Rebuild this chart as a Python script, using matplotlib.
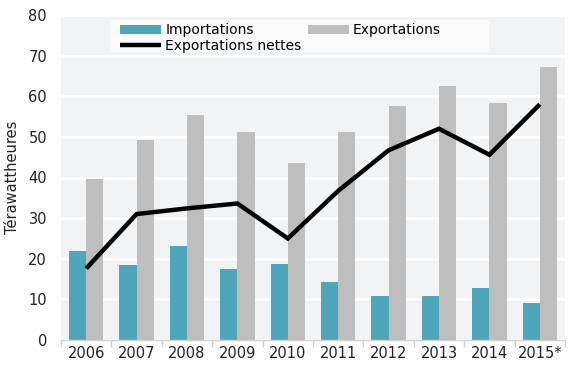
import matplotlib
matplotlib.use("Agg")
import matplotlib.pyplot as plt
from matplotlib.patches import Rectangle
import numpy as np

years = ["2006", "2007", "2008", "2009", "2010", "2011", "2012", "2013", "2014", "2015*"]
importations = [22.0, 18.5, 23.2, 17.5, 18.7, 14.4, 10.9, 10.8, 12.8, 9.2]
exportations = [39.7, 49.3, 55.5, 51.2, 43.6, 51.1, 57.6, 62.6, 58.4, 67.2]
nettes = [17.6, 31.0, 32.4, 33.6, 25.0, 36.7, 46.7, 52.0, 45.6, 58.0]

plt.rcParams['font.family'] = ['DejaVu Sans']
fs = 10
fig = plt.figure(figsize=(5.8, 3.65), dpi=100)
ax = fig.add_axes([61/580, 1 - 340/365, 504/580, 325/365])
ax.set_facecolor('#F2F3F5')

x = np.arange(len(years))
w = 0.34
b1 = ax.bar(x - w/2, importations, width=w, color='#4EA6BB', label='Importations', zorder=2)
b2 = ax.bar(x + w/2, exportations, width=w, color='#BEBEBE', label='Exportations', zorder=2)
l1, = ax.plot(x, nettes, color='black', lw=3.2, label='Exportations nettes', zorder=3,
              solid_capstyle='butt', solid_joinstyle='miter')

ax.set_xlim(-0.5, len(years) - 0.5)
ax.set_ylim(0, 80)
ax.set_yticks(range(0, 81, 10))
ax.yaxis.grid(True, color='white', lw=2, zorder=1)
ax.set_axisbelow(True)
ax.set_xticks(x)
ax.set_xticklabels(years)
ax.set_xticks(np.arange(-0.5, len(years), 1), minor=True)
ax.tick_params(axis='x', which='major', length=0, labelsize=fs + 0.5, pad=4, colors='#222222')
ax.tick_params(axis='x', which='minor', length=5, color='#D0D0D0', width=1)
ax.tick_params(axis='y', length=0, labelsize=fs + 0.5, pad=10, colors='#222222')
for s in ['top', 'right', 'left']:
    ax.spines[s].set_visible(False)
ax.spines['bottom'].set_color('#D0D0D0')
ax.spines['bottom'].set_linewidth(1)
ax.set_ylabel('Térawattheures', fontsize=fs + 0.5, color='#222222', labelpad=6)

# legend background box
ax.add_patch(Rectangle(((110 - 61) / 504, (340 - 52) / 325), 379 / 504, 32 / 325,
                       transform=ax.transAxes, facecolor='#FAFAFA', edgecolor='none',
                       zorder=4, clip_on=False))

leg = ax.legend(handles=[b1, l1, b2], ncol=2, loc='upper left',
                bbox_to_anchor=((120 - 61) / 504, 1 - 8 / 325),
                frameon=False, fontsize=fs, handlelength=2.95,
                handletextpad=0.3, borderaxespad=0, borderpad=0,
                labelspacing=0.15, columnspacing=0.45, handleheight=0.6)
leg.set_zorder(5)

fig.savefig('out.png', dpi=100)
